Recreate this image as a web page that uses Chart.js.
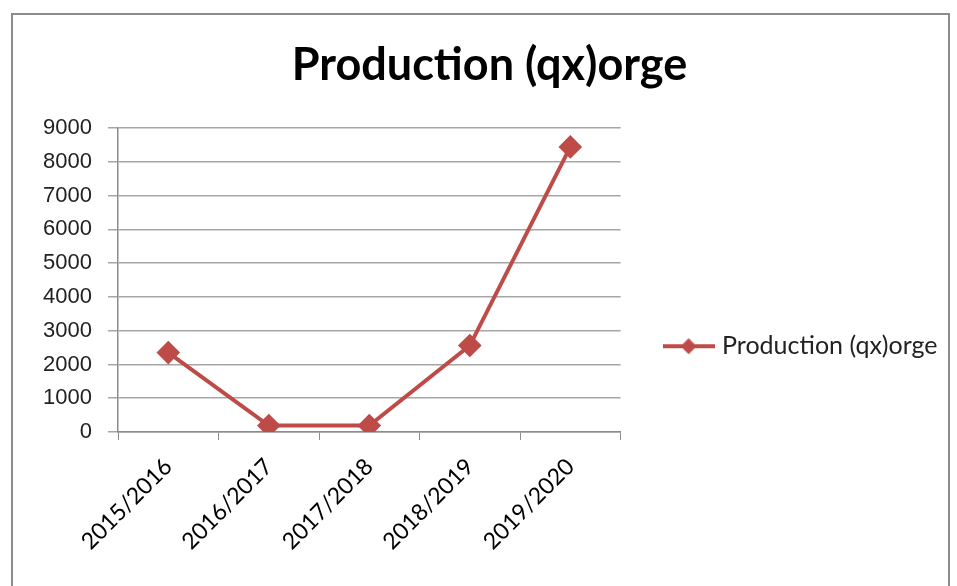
<!DOCTYPE html>
<html>
<head>
<meta charset="utf-8">
<script src="https://cdn.jsdelivr.net/npm/chart.js@4"></script>
<style>
  html, body { margin: 0; padding: 0; background: #fff; }
  #wrap { width: 957px; height: 586px; }
</style>
</head>
<body>
<div id="wrap"><canvas id="chart" width="957" height="586"></canvas></div>
<script>
  const seasons = ["2015/2016", "2016/2017", "2017/2018", "2018/2019", "2019/2020"];
  const production = [2350, 190, 190, 2560, 8440];
  const seriesName = "Production (qx)orge";
  const yTicks = [0, 1000, 2000, 3000, 4000, 5000, 6000, 7000, 8000, 9000];

  const RED = "#BE4B48";

  // legend marker: line with a diamond in the middle
  function legendMarker() {
    const c = document.createElement("canvas");
    c.width = 52;
    c.height = 20;
    const ctx = c.getContext("2d");
    ctx.strokeStyle = RED;
    ctx.lineWidth = 4;
    ctx.beginPath();
    ctx.moveTo(0, 10);
    ctx.lineTo(52, 10);
    ctx.stroke();
    ctx.fillStyle = RED;
    ctx.beginPath();
    ctx.moveTo(26, 2);
    ctx.lineTo(34, 10);
    ctx.lineTo(26, 18);
    ctx.lineTo(18, 10);
    ctx.closePath();
    ctx.fill();
    return c;
  }
  const marker = legendMarker();

  const frame = {
    id: "frame",
    beforeDraw(chart) {
      const ctx = chart.ctx;
      ctx.save();
      ctx.strokeStyle = "#8c8c8c";
      ctx.lineWidth = 2;
      ctx.strokeRect(12, 14, 937, 600);
      ctx.restore();
    },
  };

  new Chart(document.getElementById("chart"), {
    type: "line",
    data: {
      labels: seasons,
      datasets: [
        {
          label: seriesName,
          data: production,
          borderColor: RED,
          backgroundColor: RED,
          borderWidth: 4,
          pointStyle: "rectRot",
          pointRadius: 9,
          pointHoverRadius: 9,
          tension: 0,
          fill: false,
        },
      ],
    },
    options: {
      responsive: false,
      animation: false,
      layout: { padding: { top: 28, right: 9.5, bottom: 0, left: 31.5 } },
      plugins: {
        title: {
          display: true,
          text: seriesName,
          color: "#000",
          font: { family: "Lato", size: 45, weight: "bold" },
          padding: { top: 10, bottom: 36 },
        },
        legend: {
          position: "right",
          align: "center",
          maxWidth: 400,
          title: { display: true, text: "", padding: { top: 64, bottom: 0 } },
          labels: {
            usePointStyle: true,
            pointStyleWidth: 42,
            boxHeight: 20,
            color: "#222",
            font: { family: "Lato", size: 25 },
            padding: 47,
            generateLabels(chart) {
              return [
                {
                  text: seriesName,
                  pointStyle: marker,
                  fillStyle: RED,
                  strokeStyle: RED,
                  fontColor: "#222",
                  lineWidth: 0,
                  datasetIndex: 0,
                },
              ];
            },
          },
        },
        tooltip: { enabled: false },
      },
      scales: {
        x: {
          offset: true,
          grid: {
            offset: true,
            drawOnChartArea: false,
            drawTicks: true,
            tickLength: 8,
            color: "#8c8c8c",
          },
          border: { color: "#8c8c8c", width: 1.5 },
          ticks: {
            color: "#000",
            font: { family: "Lato", size: 23 },
            minRotation: 45,
            maxRotation: 45,
            padding: 13,
          },
          afterFit(s) {
            s.height = 154;
          },
        },
        y: {
          min: 0,
          max: 9000,
          afterBuildTicks(s) {
            s.ticks = yTicks.map((v) => ({ value: v }));
          },
          grid: {
            color: "#a6a6a6",
            lineWidth: 1.5,
            tickLength: 10,
          },
          border: { color: "#8c8c8c", width: 1.5 },
          ticks: {
            color: "#222",
            font: { family: "Liberation Sans", size: 22 },
            padding: 16,
            callback: (v) => String(v),
          },
          afterFit(s) {
            s.width = 86.5;
          },
        },
      },
    },
    plugins: [frame],
  });
</script>
</body>
</html>
